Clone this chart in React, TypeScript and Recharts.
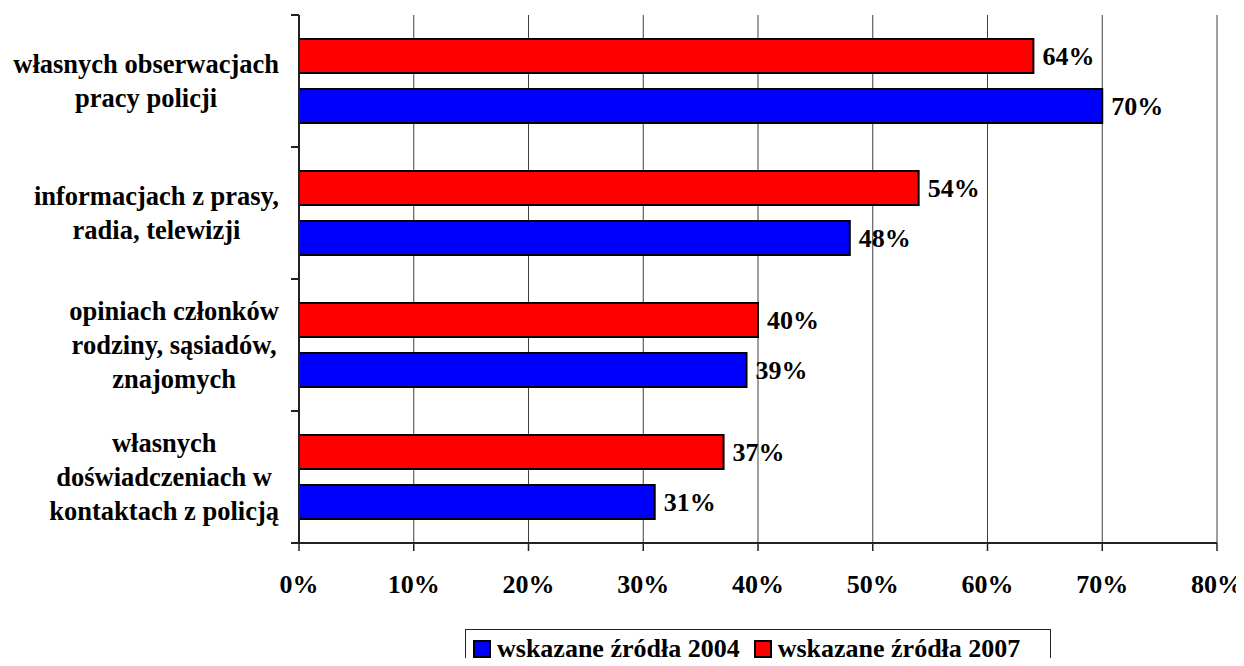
import { Bar, BarChart, CartesianGrid, LabelList, XAxis, YAxis } from 'recharts'

// Źródła wiedzy o pracy policji, 2004 vs 2007
const categories = [
	'własnych obserwacjach|pracy policji',
	'informacjach z prasy,|radia, telewizji',
	'opiniach członków|rodziny, sąsiadów,|znajomych',
	'własnych|doświadczeniach w|kontaktach z policją'
]
const values2004 = [70, 48, 39, 31]
const values2007 = [64, 54, 40, 37]
const xTicks = [0, 10, 20, 30, 40, 50, 60, 70, 80]

const SERIES_2004 = 'wskazane źródła 2004'
const SERIES_2007 = 'wskazane źródła 2007'

const FONT = '"Liberation Serif", "Times New Roman", serif'
const FONT_SIZE = 26
const LABEL_SIZE = 26.5
const LINE_H = 34
const LABEL_RIGHT = 279

const CHART_W = 1244
const CHART_H = 666
const X_AXIS_H = 70
const MARGIN = { top: 15, right: 27, bottom: 123 - X_AXIS_H, left: 0 }
const BAND = (CHART_H - MARGIN.top - 123) / categories.length

const data = categories.map((name, i) => ({
	name,
	v2004: values2004[i],
	v2007: values2007[i]
}))

let measureCtx: CanvasRenderingContext2D | null = null
function textWidth(text: string) {
	if (!measureCtx) {
		measureCtx = document.createElement('canvas').getContext('2d')
	}
	if (!measureCtx) return text.length * LABEL_SIZE * 0.5
	measureCtx.font = `bold ${LABEL_SIZE}px ${FONT}`
	return measureCtx.measureText(text).width
}

function CategoryTick(props: any) {
	const { x, y, payload } = props
	const lines: string[] = String(payload.value).split('|')
	const maxW = Math.max(...lines.map(textWidth))
	const cx = LABEL_RIGHT - maxW / 2
	const firstBase = y - ((lines.length - 1) * LINE_H) / 2 + 9
	const axisX = x + 8
	return (
		<g>
			<line x1={axisX - 8} x2={axisX} y1={y - BAND / 2} y2={y - BAND / 2} stroke="#222" strokeWidth={2} />
			<line x1={axisX - 8} x2={axisX} y1={y + BAND / 2} y2={y + BAND / 2} stroke="#222" strokeWidth={2} />
			<text
				textAnchor="middle"
				fontFamily={FONT}
				fontSize={LABEL_SIZE}
				fontWeight="bold"
				fill="#000"
			>
				{lines.map((line, i) => (
					<tspan key={i} x={cx} y={firstBase + i * LINE_H}>
						{line}
					</tspan>
				))}
			</text>
		</g>
	)
}

function LegendBox() {
	const items = [
		{ label: SERIES_2004, color: '#0000FF' },
		{ label: SERIES_2007, color: '#FF0000' }
	]
	return (
		<div
			style={{
				position: 'absolute',
				left: 465,
				top: 629,
				display: 'flex',
				alignItems: 'center',
				border: '1.5px solid #222',
				padding: '0px 8px 8px 7px',
				width: 586,
				height: 48,
				boxSizing: 'border-box',
				fontFamily: FONT,
				fontSize: FONT_SIZE,
				fontWeight: 'bold',
				background: '#fff'
			}}
		>
			{items.map((item, i) => (
				<span
					key={item.label}
					style={{ display: 'flex', alignItems: 'center', marginLeft: i ? 14 : 0 }}
				>
					<span
						style={{
							display: 'inline-block',
							width: 14,
							height: 14,
							background: item.color,
							border: '2px solid #000',
							marginRight: 6
						}}
					/>
					<span style={{ whiteSpace: 'nowrap' }}>{item.label}</span>
				</span>
			))}
		</div>
	)
}

export default function App() {
	return (
		<div
			style={{
				position: 'relative',
				margin: -8,
				width: CHART_W,
				height: CHART_H,
				background: '#fff',
				overflow: 'hidden'
			}}
		>
			<BarChart
				width={CHART_W}
				height={CHART_H}
				data={data}
				layout="vertical"
				margin={MARGIN}
				barSize={34}
				barGap={16}
			>
				<CartesianGrid horizontal={false} stroke="#404040" strokeWidth={1} />
				<XAxis
					type="number"
					domain={[0, 80]}
					ticks={xTicks}
					tickFormatter={(v) => `${v}%`}
					axisLine={{ stroke: '#222', strokeWidth: 2 }}
					tickLine={{ stroke: '#222', strokeWidth: 1.5 }}
					tickSize={8}
					tickMargin={24}
					height={X_AXIS_H}
					tick={{ fontFamily: FONT, fontSize: FONT_SIZE, fontWeight: 'bold', fill: '#000' }}
				/>
				<XAxis
					xAxisId="top"
					orientation="top"
					type="number"
					domain={[0, 80]}
					height={0}
					tick={false}
					tickLine={false}
					axisLine={{ stroke: '#999', strokeWidth: 2 }}
				/>
				<YAxis
					type="category"
					dataKey="name"
					width={299}
					axisLine={{ stroke: '#222', strokeWidth: 2 }}
					tickLine={false}
					tick={<CategoryTick />}
					interval={0}
				/>
				<YAxis
					yAxisId="right"
					orientation="right"
					type="category"
					dataKey="name"
					width={0}
					tick={false}
					tickLine={false}
					axisLine={{ stroke: '#999', strokeWidth: 2 }}
				/>
				<Bar dataKey="v2007" name={SERIES_2007} fill="#FF0000" stroke="#000" strokeWidth={2} isAnimationActive={false}>
					<LabelList
						dataKey="v2007"
						position="right"
						offset={9}
						formatter={(v: any) => `${v}%`}
						style={{ fontFamily: FONT, fontSize: FONT_SIZE, fontWeight: 'bold', fill: '#000' }}
					/>
				</Bar>
				<Bar dataKey="v2004" name={SERIES_2004} fill="#0000FF" stroke="#000" strokeWidth={2} isAnimationActive={false}>
					<LabelList
						dataKey="v2004"
						position="right"
						offset={9}
						formatter={(v: any) => `${v}%`}
						style={{ fontFamily: FONT, fontSize: FONT_SIZE, fontWeight: 'bold', fill: '#000' }}
					/>
				</Bar>
			</BarChart>
			<LegendBox />
		</div>
	)
}
